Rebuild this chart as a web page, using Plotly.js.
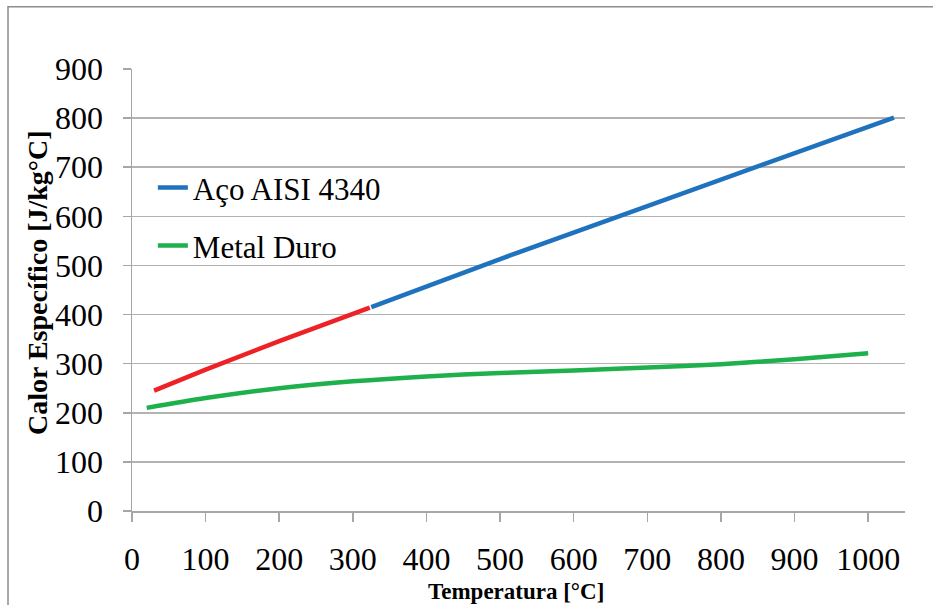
<!DOCTYPE html>
<html>
<head>
<meta charset="utf-8">
<script src="https://cdn.plot.ly/plotly-3.0.1.min.js"></script>
<style>
  html, body { margin: 0; padding: 0; background: #ffffff; }
  #chart { width: 933px; height: 605px; }
</style>
</head>
<body>
<div id="chart"></div>
<script>
// ---- Data ----
const tempAco = [325, 500, 700, 900, 1035];
const cpAco = [415, 513, 621, 728, 801];

const tempAcoLow = [30, 100, 200, 300, 323];
const cpAcoLow = [245, 288, 346, 401, 414];

const tempMetalDuro = [20, 100, 200, 300, 400, 500, 600, 700, 800, 900, 1000];
const cpMetalDuro = [210, 230, 250, 264, 274, 281, 286, 292, 299, 309, 321];

const seriesNames = ["Aço AISI 4340", "Metal Duro"];
const xTickVals = [0, 100, 200, 300, 400, 500, 600, 700, 800, 900, 1000];
const yTickVals = [0, 100, 200, 300, 400, 500, 600, 700, 800, 900];
const xTitle = 'Temperatura [°C]';
const yTitle = 'Calor Específico [J/kg°C]';

const serif = 'Liberation Serif, Times New Roman, serif';

const traces = [
  {
    x: tempAco, y: cpAco, name: seriesNames[0], type: 'scatter', mode: 'lines',
    line: { color: '#1f72bd', width: 4.5 }, legend: 'legend'
  },
  {
    x: tempMetalDuro, y: cpMetalDuro, name: seriesNames[1], type: 'scatter', mode: 'lines',
    line: { color: '#1db04b', width: 4.5, shape: 'spline', smoothing: 0.8 }, legend: 'legend2'
  },
  {
    x: tempAcoLow, y: cpAcoLow, name: 'Aço AISI 4340 (baixa T)', type: 'scatter', mode: 'lines',
    line: { color: '#ee2226', width: 4.5 }, showlegend: false
  }
];

const legendCommon = {
  xanchor: 'left', yanchor: 'middle', bgcolor: 'rgba(0,0,0,0)',
  font: { family: serif, size: 31, color: '#000000' }
};

const layout = {
  width: 933, height: 605,
  paper_bgcolor: '#ffffff', plot_bgcolor: '#ffffff',
  margin: { l: 132, r: 28, t: 69, b: 94, pad: 0 },
  font: { family: serif, color: '#000000' },
  xaxis: {
    range: [0, 1050], tickvals: xTickVals, ticktext: xTickVals.map(String),
    showgrid: false, zeroline: false,
    showline: true, linecolor: '#a6a6a6', linewidth: 1.5,
    ticks: 'outside', ticklen: 9, tickcolor: '#a6a6a6', tickwidth: 1.5,
    ticklabelstandoff: 10,
    tickfont: { family: serif, size: 32, color: '#000000' },
    fixedrange: true
  },
  yaxis: {
    range: [0, 900], tickvals: yTickVals, ticktext: yTickVals.map(String),
    showgrid: true, gridcolor: '#b3b3b3', gridwidth: 1.5, zeroline: false,
    showline: true, linecolor: '#a6a6a6', linewidth: 1.5,
    ticks: 'outside', ticklen: 8, tickcolor: '#a6a6a6', tickwidth: 1.5,
    ticklabelstandoff: 13,
    tickfont: { family: serif, size: 32, color: '#000000' },
    fixedrange: true
  },
  legend: Object.assign({ x: 0.027, y: 0.731 }, legendCommon),
  legend2: Object.assign({ x: 0.027, y: 0.600 }, legendCommon),
  annotations: [
    {
      text: '<b>' + xTitle + '</b>', xref: 'paper', yref: 'paper',
      x: 0.497, y: -0.181, xanchor: 'center', yanchor: 'middle', showarrow: false,
      font: { family: serif, size: 23, color: '#000000' }
    },
    {
      text: '<b>' + yTitle + '</b>', xref: 'paper', yref: 'paper',
      x: -0.1229, y: 0.518, xanchor: 'center', yanchor: 'middle', showarrow: false,
      textangle: -90,
      font: { family: serif, size: 28, color: '#000000' }
    }
  ],
  shapes: [
    {
      type: 'rect', xref: 'paper', yref: 'paper',
      x0: -0.1604, x1: 1.3, y0: -0.5, y1: 1.141,
      line: { color: '#8c8c8c', width: 1.5 }, fillcolor: 'rgba(0,0,0,0)', layer: 'below'
    }
  ],
  showlegend: true
};

Plotly.newPlot('chart', traces, layout, { displayModeBar: false, staticPlot: true });
</script>
</body>
</html>
